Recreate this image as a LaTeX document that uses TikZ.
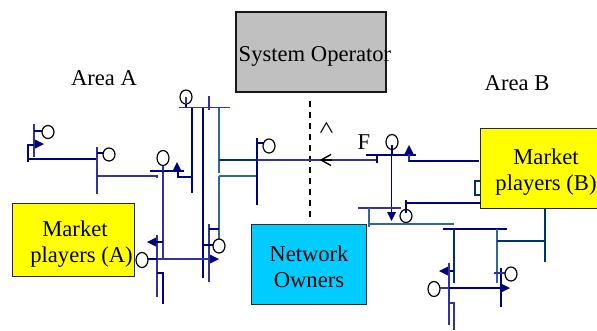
\documentclass[tikz,border=0pt]{standalone}
\usepackage{fontspec}
\setmainfont{Liberation Serif}
\definecolor{nv}{HTML}{000080}
\definecolor{lb}{HTML}{333399}
\definecolor{td}{HTML}{003366}
\definecolor{tl}{HTML}{336699}
\definecolor{gry}{HTML}{C0C0C0}
\definecolor{yel}{HTML}{FFFF00}
\definecolor{cya}{HTML}{00CCFF}
\tikzset{
  nvt/.style={draw=nv,line width=2pt},
  nvl/.style={draw=lb,line width=1.4pt},
  tdt/.style={draw=td,line width=2pt},
  tll/.style={draw=tl,line width=1.4pt},
  gen/.style={draw=black,line width=1.2pt,fill=white},
  tip/.style={fill=nv,draw=none},
  boxy/.style={draw=black!85,line width=1.2pt,inner sep=0pt,anchor=north west},
  lab/.style={font=\fontsize{22.6}{26}\selectfont,align=center,text=black,inner sep=0pt},
}
\newcommand{\gn}[3]{\draw[gen] (#1,#2) ellipse [x radius=6,y radius=#3];}
\newcommand{\tr}[2]{\fill[tip] (#1,#2-4.5) -- (#1+9,#2) -- (#1,#2+4.5) -- cycle;}
\newcommand{\tl}[2]{\fill[tip] (#1,#2-4.5) -- (#1-9,#2) -- (#1,#2+4.5) -- cycle;}
\newcommand{\tu}[2]{\fill[tip] (#1-4.5,#2) -- (#1,#2-9) -- (#1+4.5,#2) -- cycle;}
\newcommand{\td}[2]{\fill[tip] (#1-4.5,#2) -- (#1,#2+9) -- (#1+4.5,#2) -- cycle;}
\begin{document}
\begin{tikzpicture}[x=1pt,y=-1pt]
\useasboundingbox (0,0) rectangle (597,330);
\clip (0,0) rectangle (597,330);
% boxes
\node[boxy,fill=gry,line width=2pt,draw=black!90,minimum width=149.5pt,minimum height=80pt] (so) at (235,11) {};
\node[boxy,fill=yel,minimum width=122pt,minimum height=73pt] (ma) at (12,203) {};
\node[boxy,fill=yel,minimum width=125pt,minimum height=80pt] (mb) at (480,128) {};
\node[boxy,fill=cya,minimum width=114.5pt,minimum height=80pt] (no) at (251,224) {};
% texts
\node[lab] (tso) at (315,56) {System Operator};
\node[lab] (tma) at (75,244) {Market\\\hspace*{13pt}players (A)};
\node[lab] (tmb) at (546,172.5) {Market\\players (B)};
\node[lab] (tno) at (309,267) {Network\\Owners};
\node[lab] (ta) at (104,78) {Area A};
\node[lab] (tb) at (517,83) {Area B};
\node[lab] (tf) at (364,142) {F};
\node[font=\fontsize{22.6}{23}\selectfont,inner sep=0pt] (tc) at (326.5,130) {\scalebox{1.3}[1]{\textasciicircum}};
% dashed boundary
\draw[black,line width=2pt,dash pattern=on 6pt off 5pt] (310,101) -- (310,219);
% area A left
\draw[nvl] (34,124) -- (34,157);
\draw[nvt] (34,131) -- (44,131);
\gn{48}{132}{6.5}
\tr{35}{144}
\draw[nvt] (34,145) -- (28,145) -- (28,162);
\draw[nvt] (28,159) -- (97,159);
\draw[nvl] (97,147) -- (97,194);
\draw[nvt] (97,152.5) -- (105,152.5);
\gn{109}{154.5}{6.5}
\draw[nvl] (97,176) -- (157,176) -- (157,178);
% area A middle
\draw[nvl] (163,171) -- (163,259);
\draw[nvt] (150,171) -- (184,171);
\draw[nvl] (163,171) -- (163,165);
\gn{163}{158}{7.5}
\tu{177}{171}
\draw[nvt] (178,171) -- (178,177) -- (192,177);
\draw[nvl] (179,107.5) -- (230,107.5);
\draw[nvt] (186,104) -- (186,107);
\gn{186}{97}{7}
\draw[nvl] (186,97) -- (186,104);
\draw[nvt] (192,107.5) -- (192,193);
\draw[nvt] (203,107.5) -- (203,278);
\draw[nvl] (209,96) -- (209,110);
\draw[tll] (219,107.5) -- (219,173);
\draw[tll] (219,176) -- (219,243);
\draw[tdt] (219,160) -- (257,160);
\draw[tll] (219,176) -- (257,176);
\draw[nvt] (257,138) -- (257,205);
\draw[nvt] (257,143) -- (264,143);
\gn{269}{146}{7}
\draw[nvl] (257,160) -- (377,160);
\draw[nvt] (377,155) -- (377,163);
\draw[black,line width=1.4pt] (331,154.5) -- (321,160) -- (331,165.5);
\draw[black,line width=1.4pt] (321,160) -- (332,160);
% area A lower
\draw[nvl] (157,235) -- (157,297);
\draw[nvt] (163,242) -- (155,242);
\tl{156}{242}
\gn{142}{260}{7.5}
\draw[nvl] (157,259) -- (211,259);
\draw[nvt] (148,259) -- (157,259);
\tr{210}{259}
\draw[nvt] (157,273) -- (163,273) -- (163,304);
\draw[nvl] (209,224) -- (209,282);
\draw[nvt] (209,229) -- (219,229);
\draw[nvt] (203,245) -- (214,245);
\gn{219}{246}{7}
% area B upper
\draw[nvt] (366,155) -- (416,155);
\gn{392}{142}{7.5}
\draw[nvt] (391.5,145) -- (391.5,155);
\draw[draw=nv,line width=1.4pt] (391.5,155) -- (391.5,213);
\td{391.5}{212}
\draw[nvl] (409,153) -- (409,162);
\tu{409}{154}
\draw[nvt] (409,161) -- (479,161);
\draw[nvl] (358,208) -- (401,208);
\gn{406}{216}{6.5}
\draw[nvt] (406,200) -- (406,213);
\draw[nvt] (406,203) -- (481,203);
\draw[tll] (369,208) -- (369,227);
\draw[tll] (369,224) -- (454,224);
\draw[tdt] (480,181) -- (475,181) -- (475,195) -- (480,195);
% area B lower
\draw[nvt] (443,229) -- (507,229);
\draw[tdt] (454,229) -- (454,283);
\draw[tll] (497,229) -- (497,283);
\draw[tdt] (497,241) -- (545,241);
\draw[tdt] (545,208) -- (545,262);
\draw[nvt] (454,271) -- (446,271);
\tl{448}{271}
\draw[nvl] (449,263) -- (449,325);
\gn{434}{289}{7.5}
\draw[nvl] (440,288) -- (449,288);
\draw[nvt] (449,288) -- (502,288);
\tr{501}{288}
\draw[nvt] (501,268) -- (501,307);
\draw[nvl] (494,273) -- (505,273);
\gn{511}{274}{7}
\draw[nvl] (449,303) -- (454,303) -- (454,330);
\end{tikzpicture}
\end{document}
